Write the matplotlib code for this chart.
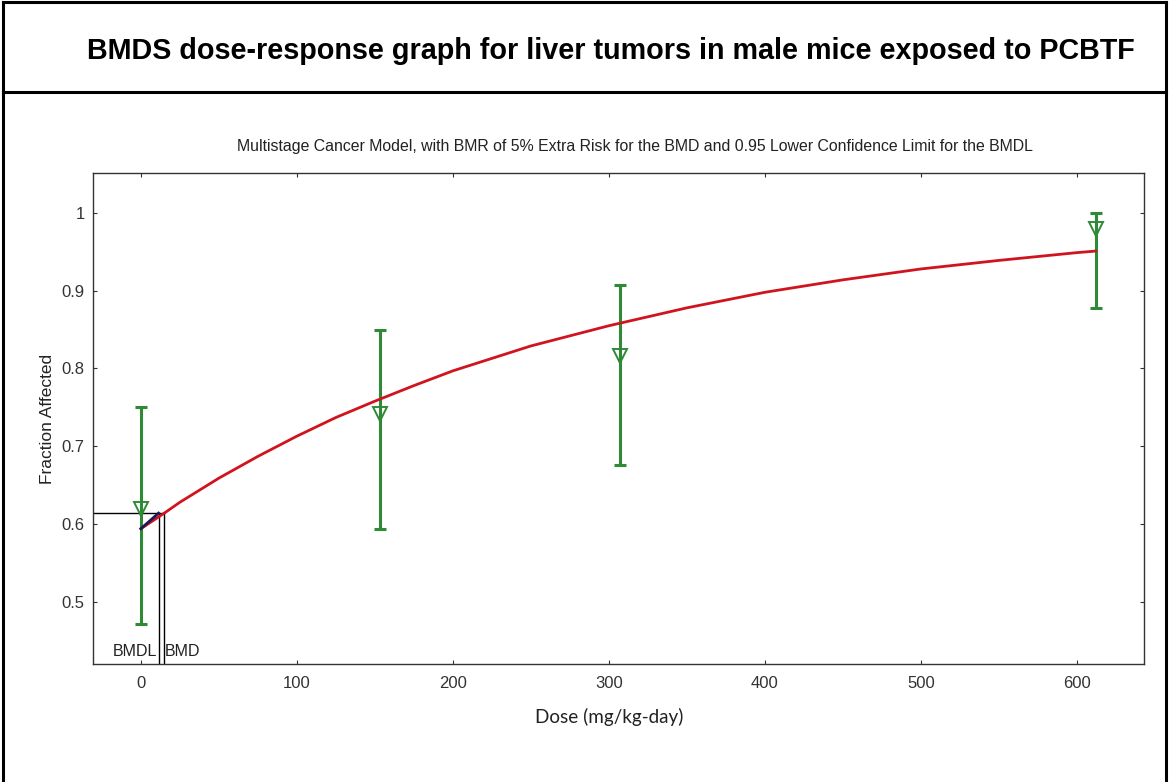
import matplotlib
matplotlib.use("Agg")
import matplotlib.pyplot as plt
from matplotlib.lines import Line2D

# ---- data ----
dose = [0, 153, 307, 612]
frac_obs = [0.619, 0.742, 0.816, 0.980]
ci_low = [0.471, 0.594, 0.676, 0.878]
ci_high = [0.750, 0.850, 0.908, 1.000]

curve_dose = [0, 15, 25, 50, 75, 100, 125, 150, 175, 200, 250, 300,
              350, 400, 450, 500, 550, 600, 612]
curve_resp = [0.594, 0.614, 0.628, 0.659, 0.687, 0.713, 0.737, 0.758,
              0.778, 0.797, 0.829, 0.855, 0.878, 0.898, 0.914, 0.928,
              0.939, 0.949, 0.951]

bmdl = 11.3
bmd = 14.6
bmr_resp = 0.614
background = 0.594

xticks = [0, 100, 200, 300, 400, 500, 600]
yticks = [0.5, 0.6, 0.7, 0.8, 0.9, 1.0]
ytick_labels = ["0.5", "0.6", "0.7", "0.8", "0.9", "1"]

title = "BMDS dose-response graph for liver tumors in male mice exposed to PCBTF"
subtitle = ("Multistage Cancer Model, with BMR of 5% Extra Risk for the BMD "
            "and 0.95 Lower Confidence Limit for the BMDL")

# ---- figure ----
W, H = 1169, 782
fig = plt.figure(figsize=(W / 100, H / 100), dpi=100)
fig.patch.set_facecolor("white")


def fx(px):
    return px / W


def fy(py):
    return 1 - py / H


border_kw = dict(color="black", linewidth=2.2, transform=fig.transFigure)
fig.add_artist(Line2D([fx(3), fx(3)], [fy(2), fy(782)], **border_kw))
fig.add_artist(Line2D([fx(1166), fx(1166)], [fy(2), fy(782)], **border_kw))
fig.add_artist(Line2D([fx(3), fx(1166)], [fy(2), fy(2)], **border_kw))
fig.add_artist(Line2D([fx(3), fx(1166)], [fy(92), fy(92)], **border_kw))

fig.text(fx(611), fy(51), title, ha="center", va="center",
         fontsize=20.7, fontweight="bold", family="Liberation Sans")

ax = fig.add_axes([fx(93), fy(664), fx(1144) - fx(93), fy(173) - fy(664)])
ax.set_xlim(-30.7, 643)
ax.set_ylim(0.42, 1.0514)

fig.text(fx(635), fy(147), subtitle, ha="center", va="center",
         fontsize=11.4, family="Liberation Sans", color="#222222")

green = "#2f8a36"
ax.errorbar(dose, frac_obs,
            yerr=[[f - l for f, l in zip(frac_obs, ci_low)],
                  [h - f for f, h in zip(frac_obs, ci_high)]],
            fmt="none", ecolor=green, elinewidth=2.2, capsize=4,
            capthick=2.2, zorder=3)
ax.plot(dose, frac_obs, linestyle="none", marker="v", markersize=10,
        markerfacecolor="none", markeredgecolor=green,
        markeredgewidth=1.4, zorder=4)

ax.plot(curve_dose, curve_resp, color="#d0141e", linewidth=2.0, zorder=5)
ax.plot([0, bmdl], [background, bmr_resp], color="#1a1a5a",
        linewidth=2.0, zorder=6)

# BMD / BMDL markers
ax.plot([-30.7, bmd], [bmr_resp, bmr_resp], color="black", linewidth=1.0,
        zorder=2)
ax.plot([bmdl, bmdl], [0.42, bmr_resp], color="black", linewidth=1.0,
        zorder=2)
ax.plot([bmd, bmd], [0.42, bmr_resp], color="black", linewidth=1.0,
        zorder=2)
ax.text(bmdl - 0.8, 0.427, "BMDL", ha="right", va="bottom",
        fontsize=11.5, family="Liberation Sans", color="#222222")
ax.text(bmd + 0.8, 0.427, "BMD", ha="left", va="bottom",
        fontsize=11.5, family="Liberation Sans", color="#222222")

ax.set_xticks(xticks)
ax.set_xticklabels([str(t) for t in xticks])
ax.set_yticks(yticks)
ax.set_yticklabels(ytick_labels)
ax.tick_params(axis="both", direction="in", length=3, width=0.8,
               labelsize=12, colors="#333333", top=True, right=True)
ax.tick_params(axis="x", pad=9)
ax.tick_params(axis="y", pad=6)
for lbl in ax.get_xticklabels() + ax.get_yticklabels():
    lbl.set_family("Liberation Sans")

ax.set_ylabel("Fraction Affected", fontsize=12.5, family="Liberation Sans",
              color="#222222", labelpad=5)
ax.set_xlabel("Dose (mg/kg-day)", fontsize=13.6, family="Lato",
              color="#222222", labelpad=12)
ax.xaxis.set_label_coords((609 - 93) / (1144 - 93), ax.xaxis.label.get_position()[1])
ax.xaxis.label.set_position(((609 - 93) / (1144 - 93), 0))
ax.xaxis.set_label_coords((609 - 93) / (1144 - 93), -(717 - 664) / (664 - 173))
ax.xaxis.label.set_va("center")

for sp in ax.spines.values():
    sp.set_color("#333333")
    sp.set_linewidth(1.0)

fig.savefig("out.png", dpi=100, facecolor="white")
